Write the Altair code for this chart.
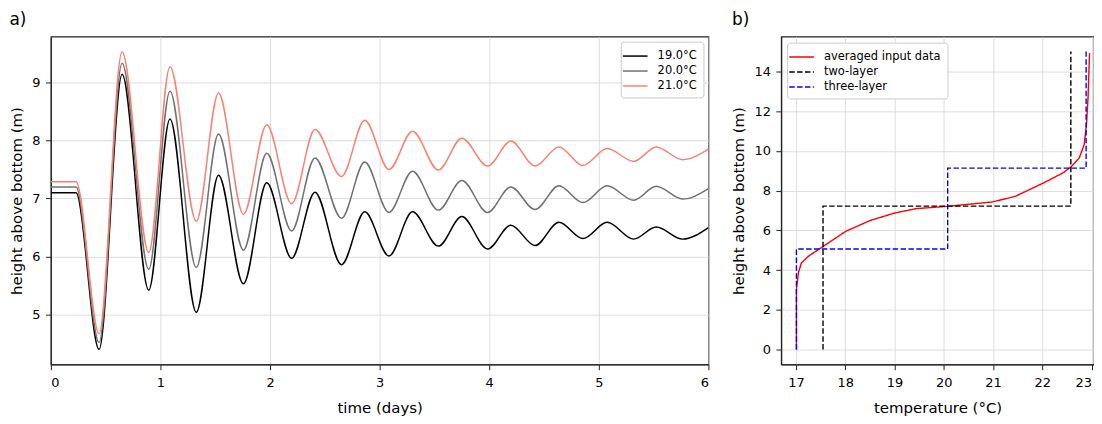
import altair as alt
import pandas as pd

# ---------- panel a data (extrema) ----------
t_days = [0.0, 0.23, 0.44, 0.65, 0.893, 1.087, 1.327, 1.53, 1.757, 1.97, 2.197, 2.41,
          2.652, 2.864, 3.085, 3.30, 3.536, 3.75, 3.985, 4.197, 4.418, 4.636, 4.855,
          5.076, 5.318, 5.524, 5.764, 6.0]
h_19 = [7.10, 7.10, 4.40, 9.14, 5.42, 8.37, 5.04, 7.40, 5.53, 7.27, 5.97, 7.11, 5.86,
        6.77, 6.01, 6.77, 6.18, 6.69, 6.13, 6.54, 6.19, 6.59, 6.31, 6.59, 6.30, 6.51,
        6.30, 6.50]
h_20 = [7.20, 7.20, 4.52, 9.33, 5.78, 8.85, 5.81, 8.11, 6.11, 7.78, 6.44, 7.70, 6.66,
        7.63, 6.76, 7.47, 6.80, 7.31, 6.76, 7.20, 6.81, 7.22, 6.93, 7.22, 6.97, 7.21,
        6.99, 7.17]
h_21 = [7.29, 7.29, 4.67, 9.53, 6.07, 9.27, 6.61, 8.82, 6.73, 8.27, 6.91, 8.19, 7.38,
        8.35, 7.50, 8.16, 7.49, 8.04, 7.56, 7.99, 7.56, 7.89, 7.57, 7.86, 7.64, 7.89,
        7.67, 7.85]
series_a = ["19.0°C", "20.0°C", "21.0°C"]
colors_a = ["#000000", "#707070", "#fa8072"]

# ---------- panel b data ----------
avg_temp = [17.01, 17.01, 17.05, 17.11, 17.25, 17.54, 18.01, 18.50, 19.00, 19.43, 20.08,
            20.99, 21.45, 22.02, 22.42, 22.58, 22.75, 22.85, 22.90, 22.93, 22.96]
avg_height = [0.0, 3.02, 3.86, 4.36, 4.69, 5.17, 5.95, 6.49, 6.87, 7.09, 7.21, 7.43,
              7.71, 8.38, 8.89, 9.19, 9.64, 10.31, 11.40, 12.74, 14.92]
two_temp = [17.55, 17.55, 22.58, 22.58]
two_height = [0.0, 7.22, 7.22, 15.0]
three_temp = [17.01, 17.01, 20.08, 20.08, 22.89, 22.89]
three_height = [0.0, 5.06, 5.06, 9.13, 9.13, 15.0]
series_b = ["averaged input data", "two-layer", "three-layer"]
colors_b = ["#ff0000", "#000000", "#0000ff"]
dash_b = [[1, 0], [5.5, 2.4], [5.5, 2.4]]

FONT = "DejaVu Sans"

rows = []
for name, vals in zip(series_a, [h_19, h_20, h_21]):
    for i, (t, v) in enumerate(zip(t_days, vals)):
        rows.append({"t": t, "h": v, "s": name, "o": i})
df_a = pd.DataFrame(rows)

rows = []
for name, xs, ys in zip(series_b, [avg_temp, two_temp, three_temp],
                        [avg_height, two_height, three_height]):
    for i, (x, y) in enumerate(zip(xs, ys)):
        rows.append({"T": x, "z": y, "s": name, "o": i})
df_b = pd.DataFrame(rows)

axis_common = dict(
    labelFont=FONT, titleFont=FONT, labelFontSize=13, titleFontSize=15,
    titleFontWeight="normal", labelColor="#000", titleColor="#000",
    domainColor="#222", domainWidth=1.2, tickColor="#222", tickSize=5.3,
    gridColor="#d4d4d4", gridWidth=0.8,
)

legend_common = dict(
    labelFont=FONT, labelFontSize=11.5, symbolType="M-1.6,0H1.6", symbolSize=240,
    symbolStrokeWidth=1.5, fillColor="white", strokeColor="#cccccc",
    cornerRadius=3, padding=6, rowPadding=1, labelOffset=14,
    title=None,
)

chart_a = alt.Chart(df_a).mark_line(interpolate="monotone", strokeWidth=1.5, clip=True).encode(
    x=alt.X("t:Q", scale=alt.Scale(domain=[0, 6], nice=False, zero=False),
            axis=alt.Axis(title="time (days)", values=[0, 1, 2, 3, 4, 5, 6],
                          labelPadding=6.7, titlePadding=11, **axis_common)),
    y=alt.Y("h:Q", scale=alt.Scale(domain=[4.14, 9.79], nice=False, zero=False),
            axis=alt.Axis(title="height above bottom (m)", values=[5, 6, 7, 8, 9],
                          labelPadding=5.5, titlePadding=7.5, **axis_common)),
    color=alt.Color("s:N", scale=alt.Scale(domain=series_a, range=colors_a),
                    legend=alt.Legend(orient="top-right", offset=5, **legend_common)),
    detail="s:N",
    order="o:Q",
).properties(
    width=660, height=329,
    title=alt.TitleParams("a)", anchor="start", font=FONT, fontSize=17,
                          fontWeight="normal", offset=8, color="#000"),
)

chart_b = alt.Chart(df_b).mark_line(strokeWidth=1.4, clip=True).encode(
    x=alt.X("T:Q", scale=alt.Scale(domain=[16.7, 23.05], nice=False, zero=False),
            axis=alt.Axis(title="temperature (°C)", values=[17, 18, 19, 20, 21, 22, 23],
                          labelPadding=6.7, titlePadding=11, labelFlush=3,
                          **axis_common)),
    y=alt.Y("z:Q", scale=alt.Scale(domain=[-0.75, 15.75], nice=False, zero=False),
            axis=alt.Axis(title="height above bottom (m)", values=[0, 2, 4, 6, 8, 10, 12, 14],
                          labelPadding=5.5, titlePadding=7, **axis_common)),
    color=alt.Color("s:N", scale=alt.Scale(domain=series_b, range=colors_b),
                    legend=alt.Legend(orient="top-left", offset=6, **legend_common)),
    strokeDash=alt.StrokeDash("s:N", scale=alt.Scale(domain=series_b, range=dash_b),
                              legend=alt.Legend(orient="top-left", offset=6, **legend_common)),
    detail="s:N",
    order="o:Q",
).properties(
    width=314, height=329,
    title=alt.TitleParams("b)", anchor="start", font=FONT, fontSize=17,
                          fontWeight="normal", offset=8, color="#000"),
)

chart = alt.hconcat(
    chart_a, chart_b, spacing=21,
    padding={"left": 0, "top": 1, "right": -1, "bottom": 0},
).resolve_scale(
    color="independent", strokeDash="independent"
).configure_view(stroke="#222", strokeWidth=1.2)

chart.save("out.html", embed_options={"renderer": "svg", "actions": False})
